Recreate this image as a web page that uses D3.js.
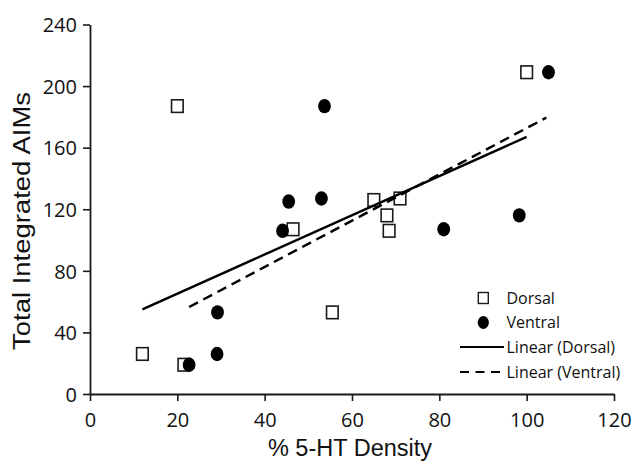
<!DOCTYPE html>
<html>
<head>
<meta charset="utf-8">
<script src="https://cdn.jsdelivr.net/npm/d3@7"></script>
<style>
  body { margin: 0; background: #fff; }
  svg text { fill: #111; }
</style>
</head>
<body>
<script>
var width = 633;
var height = 461;

// Dorsal points (% 5-HT density, total integrated AIMs)
var dorsalX = [12, 21.5, 20, 46.5, 55.5, 65, 68, 68.5, 71, 100];
var dorsalY = [26, 19, 187, 107, 53, 126, 116, 106, 127, 209];
// Ventral points
var ventralX = [22.7, 29.2, 29.1, 44.1, 45.5, 53, 53.7, 81, 98.3, 105];
var ventralY = [19, 53, 26, 106, 125, 127, 187, 107, 116, 209];
// linear trendline end points
var trendDorsal = [[12, 55], [100, 167]];
var trendVentral = [[22.7, 56.5], [104.5, 179.5]];

var xTicks = [0, 20, 40, 60, 80, 100, 120];
var yTicks = [0, 40, 80, 120, 160, 200, 240];
var legendLabels = ["Dorsal", "Ventral", "Linear (Dorsal)", "Linear (Ventral)"];

var x = d3.scaleLinear().domain([0, 120]).range([90, 614]);
var y = d3.scaleLinear().domain([0, 240]).range([394, 24.5]);

var svg = d3.select("body").append("svg")
    .attr("width", width)
    .attr("height", height);

var ink = "#1a1a1a";

//y axis
var yAxis = d3.axisLeft(y).tickValues(yTicks).tickSize(7).tickSizeOuter(0).tickPadding(6);
var gy = svg.append("g")
    .attr("transform", "translate(90,0)")
    .call(yAxis);
gy.select(".domain").attr("stroke", ink).attr("stroke-width", 1.8);
gy.selectAll(".tick line").attr("stroke", ink).attr("stroke-width", 1.6);
gy.selectAll(".tick text")
    .style("font-family", "'Open Sans', sans-serif")
    .style("font-size", "20px")
    .attr("fill", "#111")
    .attr("dy", "0.36em");

//x axis
var xAxis = d3.axisBottom(x).tickValues(xTicks).tickSize(7).tickSizeOuter(0).tickPadding(12);
var gx = svg.append("g")
    .attr("transform", "translate(0,394)")
    .call(xAxis);
gx.select(".domain").attr("stroke", ink).attr("stroke-width", 1.8);
gx.selectAll(".tick line").attr("stroke", ink).attr("stroke-width", 1.6);
gx.selectAll(".tick text")
    .style("font-family", "'Open Sans', sans-serif")
    .style("font-size", "20px")
    .attr("fill", "#111");

//axis titles
svg.append("text")
    .attr("transform", "translate(29.5,221) rotate(-90)")
    .attr("text-anchor", "middle")
    .attr("textLength", 258)
    .attr("lengthAdjust", "spacingAndGlyphs")
    .style("font-family", "'Liberation Sans', Arial, sans-serif")
    .style("font-size", "23.5px")
    .text("Total Integrated AIMs");

svg.append("text")
    .attr("x", 350)
    .attr("y", 456)
    .attr("text-anchor", "middle")
    .style("font-family", "'Liberation Sans', Arial, sans-serif")
    .style("font-size", "23.5px")
    .text("% 5-HT Density");

//points
var dorsal = dorsalX.map(function(d, i) { return {x: d, y: dorsalY[i]}; });
var ventral = ventralX.map(function(d, i) { return {x: d, y: ventralY[i]}; });

svg.selectAll(".dorsal")
    .data(dorsal)
  .enter().append("rect")
    .attr("class", "dorsal")
    .attr("x", function(d) { return x(d.x) - 5.8; })
    .attr("y", function(d) { return y(d.y) - 6.3; })
    .attr("width", 11.6)
    .attr("height", 12.6)
    .attr("fill", "#fff")
    .attr("stroke", ink)
    .attr("stroke-width", 1.6);

svg.selectAll(".ventral")
    .data(ventral)
  .enter().append("ellipse")
    .attr("class", "ventral")
    .attr("cx", function(d) { return x(d.x); })
    .attr("cy", function(d) { return y(d.y); })
    .attr("rx", 6.4)
    .attr("ry", 7.2)
    .attr("fill", "#000");

//trendlines
var line = d3.line()
    .x(function(d) { return x(d[0]); })
    .y(function(d) { return y(d[1]); });

svg.append("path")
    .attr("d", line(trendDorsal))
    .attr("fill", "none")
    .attr("stroke", "#000")
    .attr("stroke-width", 2.4);

svg.append("path")
    .attr("d", line(trendVentral))
    .attr("fill", "none")
    .attr("stroke", "#000")
    .attr("stroke-width", 2.4)
    .attr("stroke-dasharray", "10,6");

//legend
var lg = svg.append("g");
var rowY = [298, 322.5, 347, 372];

lg.append("rect")
    .attr("x", 483.3 - 5).attr("y", rowY[0] - 5.5)
    .attr("width", 10).attr("height", 11)
    .attr("fill", "#fff").attr("stroke", ink).attr("stroke-width", 1.4);
lg.append("ellipse")
    .attr("cx", 483.3).attr("cy", rowY[1])
    .attr("rx", 5.6).attr("ry", 6.4)
    .attr("fill", "#000");
lg.append("line")
    .attr("x1", 460).attr("x2", 504).attr("y1", rowY[2]).attr("y2", rowY[2])
    .attr("stroke", "#000").attr("stroke-width", 2.2);
lg.append("line")
    .attr("x1", 460).attr("x2", 504).attr("y1", rowY[3]).attr("y2", rowY[3])
    .attr("stroke", "#000").attr("stroke-width", 2.2)
    .attr("stroke-dasharray", "9,6.5");

lg.selectAll(".lbl")
    .data(legendLabels)
  .enter().append("text")
    .attr("class", "lbl")
    .attr("x", 506.5)
    .attr("y", function(d, i) { return rowY[i]; })
    .attr("dy", "0.36em")
    .style("font-family", "'Open Sans', sans-serif")
    .style("font-size", "16px")
    .text(function(d) { return d; });
</script>
</body>
</html>
